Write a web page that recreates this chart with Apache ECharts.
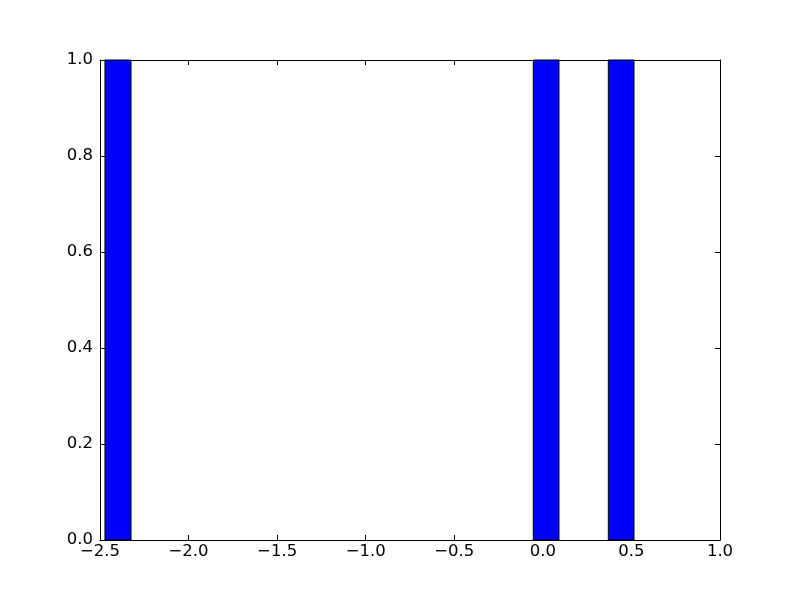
<!DOCTYPE html>
<html>
<head>
<meta charset="utf-8">
<script src="https://cdn.jsdelivr.net/npm/echarts@6/dist/echarts.min.js"></script>
<style>html,body{margin:0;padding:0;background:#fff;}#main{width:800px;height:600px;}</style>
</head>
<body>
<div id="main"></div>
<script>
// Histogram bins (left edge, right edge) and counts
var binLefts = [-2.472, -0.054, 0.3695];
var binRights = [-2.325, 0.091, 0.5145];
var counts = [1, 1, 1];
var xTicks = [-2.5, -2.0, -1.5, -1.0, -0.5, 0.0, 0.5, 1.0];
var yTicks = [0.0, 0.2, 0.4, 0.6, 0.8, 1.0];

var data = binLefts.map(function (l, i) { return [l, binRights[i], counts[i]]; });

function fmt(v) {
  return v.toFixed(1).replace('-', '\u2212');
}

var chart = echarts.init(document.getElementById('main'), null, { renderer: 'canvas' });
var labelFont = { color: '#000', fontSize: 16.5, fontFamily: 'DejaVu Sans' };
function axisBase(pos, showLabel, margin) {
  return {
    position: pos,
    axisLine: { show: true, onZero: false, lineStyle: { color: '#000', width: 1 } },
    axisTick: { show: true, inside: true, length: 5, lineStyle: { color: '#000' } },
    axisLabel: showLabel ? Object.assign({ margin: margin, formatter: fmt }, labelFont) : { show: false },
    splitLine: { show: false }
  };
}
chart.setOption({
  animation: false,
  backgroundColor: '#fff',
  grid: { left: 100, right: 80, top: 60, bottom: 60, containLabel: false },
  xAxis: [
    Object.assign({ type: 'value', min: xTicks[0], max: xTicks[xTicks.length - 1], interval: 0.5 }, axisBase('bottom', true, 3)),
    Object.assign({ type: 'value', min: xTicks[0], max: xTicks[xTicks.length - 1], interval: 0.5 }, axisBase('top', false))
  ],
  yAxis: [
    Object.assign({ type: 'value', min: yTicks[0], max: yTicks[yTicks.length - 1], interval: 0.2 }, axisBase('left', true, 7)),
    Object.assign({ type: 'value', min: yTicks[0], max: yTicks[yTicks.length - 1], interval: 0.2 }, axisBase('right', false))
  ],
  series: [{
    type: 'custom',
    xAxisIndex: 0, yAxisIndex: 0,
    data: data,
    renderItem: function (params, api) {
      var p0 = api.coord([api.value(0), 0]);
      var p1 = api.coord([api.value(1), api.value(2)]);
      return {
        type: 'rect',
        shape: { x: p0[0], y: p1[1], width: p1[0] - p0[0], height: p0[1] - p1[1] },
        style: { fill: '#0000ff', stroke: '#000', lineWidth: 1 }
      };
    },
    encode: { x: [0, 1], y: 2 },
    z: 1
  }]
});
</script>
</body>
</html>
